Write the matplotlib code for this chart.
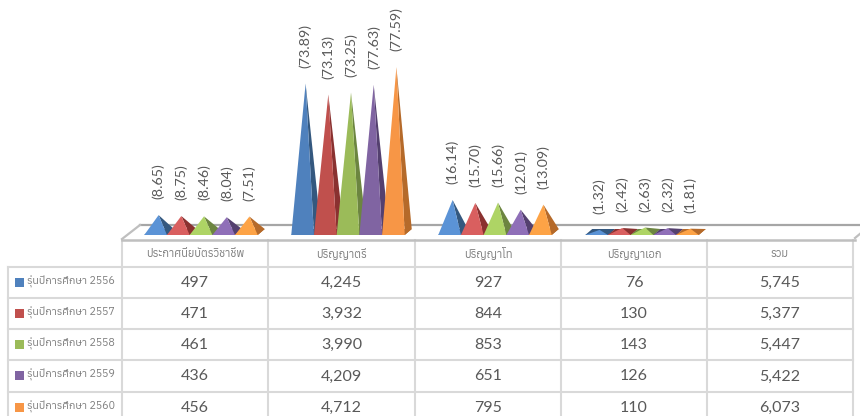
import matplotlib
matplotlib.use('Agg')
import matplotlib.pyplot as plt
from matplotlib import font_manager
from matplotlib.ft2font import FT2Font
from matplotlib.patches import Polygon

categories = ['ประกาศนียบัตรวิชาชีพ', 'ปริญญาตรี', 'ปริญญาโท', 'ปริญญาเอก', 'รวม']
series_names = ['รุ่นปีการศึกษา 2556', 'รุ่นปีการศึกษา 2557', 'รุ่นปีการศึกษา 2558',
                'รุ่นปีการศึกษา 2559', 'รุ่นปีการศึกษา 2560']

counts_2556 = [497, 4245, 927, 76, 5745]
counts_2557 = [471, 3932, 844, 130, 5377]
counts_2558 = [461, 3990, 853, 143, 5447]
counts_2559 = [436, 4209, 651, 126, 5422]
counts_2560 = [456, 4712, 795, 110, 6073]
counts = [counts_2556, counts_2557, counts_2558, counts_2559, counts_2560]

pct_2556 = [8.65, 73.89, 16.14, 1.32]
pct_2557 = [8.75, 73.13, 15.70, 2.42]
pct_2558 = [8.46, 73.25, 15.66, 2.63]
pct_2559 = [8.04, 77.63, 12.01, 2.32]
pct_2560 = [7.51, 77.59, 13.09, 1.81]
pcts = [pct_2556, pct_2557, pct_2558, pct_2559, pct_2560]

front_dark = ['#4f81bd', '#c0504d', '#9bbb59', '#8064a2', '#f79646']
front_light = ['#5b93d6', '#d95f5f', '#aed465', '#8f6fb8', '#fda346']
side_cols = ['#34587f', '#8a3130', '#6c8540', '#54406f', '#b56a2a']

W, H = 860, 416
GRID = '#d9d9d9'


# look for a font that really has Thai glyphs, none of the named ones may have it
def thai_families():
    found = []
    for f in font_manager.fontManager.ttflist:
        try:
            if 0x0E23 in FT2Font(f.fname).get_charmap():
                found.append(f.name)
        except Exception:
            pass
    return sorted(set(found))


thai = thai_families()
plt.rcParams['font.family'] = thai[:1] + ['Lato', 'DejaVu Sans']

fig = plt.figure(figsize=(W / 100, H / 100), dpi=100)

# table and floor, in pixels
bg = fig.add_axes([0, 0, 1, 1])
bg.set_xlim(0, W)
bg.set_ylim(H, 0)
bg.axis('off')

col_x = [122, 268, 415, 561, 707, 853]
row_y = [267, 298, 329, 360, 392, 423]

for x in col_x:
    bg.plot([x, x], [240, H + 5], color=GRID, lw=1.5)
bg.plot([8, 8], [row_y[0], H + 5], color=GRID, lw=1.5)
for y in row_y:
    bg.plot([8, col_x[-1]], [y, y], color=GRID, lw=1.5)

# floor of the 3d chart
bg.plot([140, 860], [225, 225], color='#a6a6a6', lw=1.6)
bg.plot([122, 140], [239, 225], color='#bfbfbf', lw=1.6)
bg.plot([122, 855], [239.5, 239.5], color='#bfbfbf', lw=1.8)
bg.plot([855, 861], [238, 233], color='#bfbfbf', lw=1.6)

for i, name in enumerate(categories):
    bg.text((col_x[i] + col_x[i + 1]) / 2, 254, name, ha='center', va='center',
            fontsize=8, color='#7f7f7f')

for r, name in enumerate(series_names):
    yc = (row_y[r] + row_y[r + 1]) / 2
    bg.add_patch(Polygon([(15, yc - 5), (24, yc - 5), (24, yc + 4), (15, yc + 4)],
                         color=front_dark[r], lw=0))
    bg.text(27, yc - 1, name, ha='left', va='center', fontsize=7.7, color='#7f7f7f')
    for i, val in enumerate(counts[r]):
        bg.text((col_x[i] + col_x[i + 1]) / 2, yc + 0.5, f'{val:,}', ha='center', va='center',
                fontsize=11.5, color='#595959', family=['Lato', 'DejaVu Sans'])

# pyramids, x is the category index and y is the head count
PX_X = 147.0
PX_Y = 0.0351
BASE = -70
ax = fig.add_axes([127.5 / W, 1 - 235 / H, 735 / W, 235 / H])
ax.set_xlim(-0.5, 4.5)
ax.set_ylim(BASE, BASE + 235 / PX_Y)
ax.axis('off')
ax.patch.set_alpha(0)

bar_w = 22.7 / PX_X
dx = 7 / PX_X
dy = 6 / PX_Y
tip = 3 / PX_X

for i in range(4):
    for r in range(5):
        c = i + (r - 2) * bar_w
        left, right = c - bar_w / 2, c + bar_w / 2
        h = counts[r][i]
        apex = (c + tip, h)
        # floor of the pyramid, only shows on the very flat ones
        ax.add_patch(Polygon([(left, BASE), (right, BASE), (right + dx, BASE + dy), (left + dx, BASE + dy)],
                             color=side_cols[r], lw=0, clip_on=False, zorder=2 + r))
        ax.add_patch(Polygon([(right, BASE), (right + dx, BASE + dy), apex],
                             color=side_cols[r], lw=0, clip_on=False, zorder=2 + r))
        col = front_light[r] if h < 1000 else front_dark[r]
        ax.add_patch(Polygon([(left, BASE), (right, BASE), apex],
                             color=col, lw=0, clip_on=False, zorder=2 + r))
        ax.annotate(f'({pcts[r][i]:.2f})', xy=apex, xytext=(0, 11.5), textcoords='offset points',
                    rotation=90, ha='center', va='bottom', fontsize=10.3, color='#595959',
                    family=['Lato', 'DejaVu Sans'], annotation_clip=False, zorder=20)

fig.savefig('out.png', dpi=100)
